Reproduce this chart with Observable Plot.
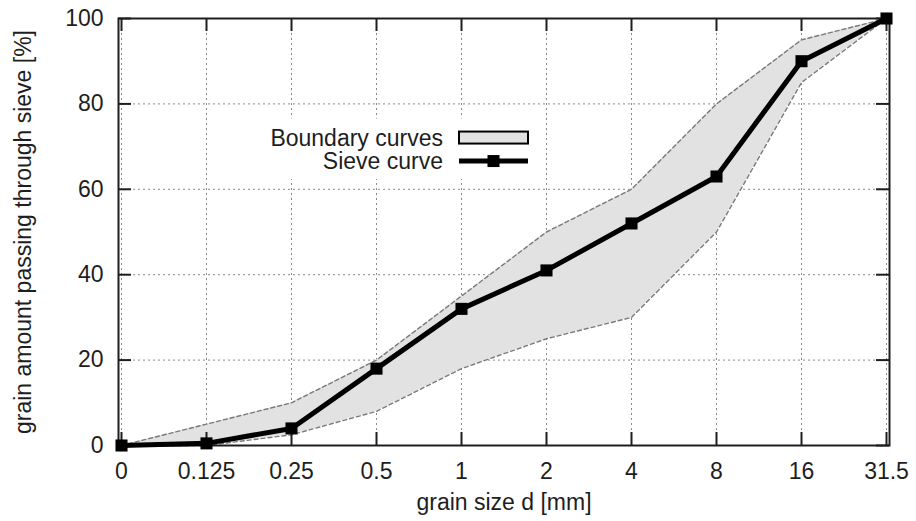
<!DOCTYPE html>
<html><head><meta charset="utf-8">
<script src="https://cdn.jsdelivr.net/npm/d3@7"></script>
<script src="https://cdn.jsdelivr.net/npm/@observablehq/plot@0.6"></script>
<style>body{margin:0;background:#fff;}</style>
</head><body><div id="chart"></div>
<script>
// grain sizes (sieve openings, mm) — categorical axis
const sizes = ["0", "0.125", "0.25", "0.5", "1", "2", "4", "8", "16", "31.5"];
// sieve curve (% passing)
const sieve = [0, 0.5, 4, 18, 32, 41, 52, 63, 90, 100];
// boundary curves (% passing)
const upper = [0, 5, 10, 20, 35, 50, 60, 80, 95, 100];
const lower = [0, 0, 2.5, 8, 18, 25, 30, 50, 85, 100];
// y tick labels
const yTicks = [0, 20, 40, 60, 80, 100];
const legendLabels = ["Boundary curves", "Sieve curve"];

const data = sizes.map((d, i) => ({d, sieve: sieve[i], upper: upper[i], lower: lower[i]}));

const W = 916, H = 521, mL = 118, mR = 27, mT = 18, mB = 76;
const plotH = H - mT - mB, plotW = W - mL - mR;
const tickLen = 13;
const font = "'Liberation Sans', Arial, sans-serif";
const ink = "#1e1e1e";

const chart = Plot.plot({
  width: W, height: H,
  marginLeft: mL, marginRight: mR, marginTop: mT, marginBottom: mB,
  style: {fontFamily: font, fontSize: "23px", color: ink, background: "#fff", overflow: "visible"},
  x: {type: "point", domain: sizes, padding: 0},
  y: {domain: [0, 100]},
  marks: [
    Plot.gridX(sizes, {stroke: "#8a8a8a", strokeOpacity: 1, strokeDasharray: "2,3"}),
    Plot.gridY(yTicks, {stroke: "#8a8a8a", strokeOpacity: 1, strokeDasharray: "2,3"}),
    Plot.areaY(data, {x: "d", y1: "lower", y2: "upper", fill: "#e2e2e2"}),
    Plot.lineY(data, {x: "d", y: "upper", stroke: "#7a7a7a", strokeWidth: 1.4, strokeDasharray: "4,3"}),
    Plot.lineY(data, {x: "d", y: "lower", stroke: "#7a7a7a", strokeWidth: 1.4, strokeDasharray: "4,3"}),
    Plot.ruleX(sizes, {stroke: ink, strokeWidth: 2, insetTop: plotH - tickLen}),
    Plot.ruleX(sizes, {stroke: ink, strokeWidth: 2, insetBottom: plotH - tickLen}),
    Plot.ruleY(yTicks, {stroke: ink, strokeWidth: 2, insetRight: plotW - tickLen}),
    Plot.ruleY(yTicks, {stroke: ink, strokeWidth: 2, insetLeft: plotW - tickLen}),
    Plot.frame({stroke: ink, strokeWidth: 2}),
    Plot.axisX({tickSize: 0, tickPadding: 17, label: null}),
    Plot.axisY(yTicks, {tickSize: 0, tickPadding: 15, label: null}),
    Plot.lineY(data, {x: "d", y: "sieve", stroke: "#000", strokeWidth: 5}),
    Plot.dot(data, {x: "d", y: "sieve", symbol: "square", fill: "#000", r: 6.8}),
    Plot.text(["grain size d [mm]"], {frameAnchor: "bottom", dy: 64, fontSize: 23}),
    Plot.text(["grain amount passing through sieve [%]"], {frameAnchor: "left", textAnchor: "middle", rotate: -90, dx: -95, fontSize: 23})
  ]
});
document.getElementById("chart").appendChild(chart);

// legend, positioned through the scales
const sx = chart.scale("x"), sy = chart.scale("y");
const svg = d3.select(chart);
const lx0 = sx.apply("1") - 2, lx1 = lx0 + 69;
const yB = sy.apply(72), yS = sy.apply(66.5);
const g = svg.append("g").attr("font-family", font).attr("font-size", 23).attr("fill", ink);
g.append("rect").attr("x", lx0 - 197).attr("y", yB - 19).attr("width", 275).attr("height", yS - yB + 37).attr("fill", "#fff");
g.append("rect").attr("x", lx0).attr("y", yB - 6).attr("width", lx1 - lx0).attr("height", 12)
  .attr("fill", "#e2e2e2").attr("stroke", "#000").attr("stroke-width", 2);
g.append("line").attr("x1", lx0).attr("x2", lx1).attr("y1", yS).attr("y2", yS).attr("stroke", "#000").attr("stroke-width", 5);
g.append("rect").attr("x", (lx0 + lx1) / 2 - 6).attr("y", yS - 6).attr("width", 12).attr("height", 12).attr("fill", "#000");
g.append("text").attr("x", lx0 - 16).attr("y", yB).attr("dy", "0.35em").attr("text-anchor", "end").text(legendLabels[0]);
g.append("text").attr("x", lx0 - 16).attr("y", yS).attr("dy", "0.35em").attr("text-anchor", "end").text(legendLabels[1]);
</script>
</body></html>
